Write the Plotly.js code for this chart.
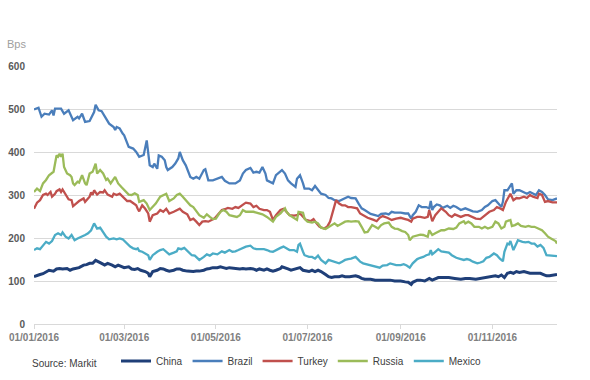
<!DOCTYPE html>
<html><head><meta charset="utf-8">
<script src="https://cdn.plot.ly/plotly-3.0.1.min.js"></script>
<style>html,body{margin:0;padding:0;background:#fff}#chart{width:590px;height:380px}</style>
</head><body><div id="chart"></div>
<script>
// Days since 01/01/2016 and CDS spreads (bps)
const chinaDays=[0,2,4,6,8,10,13,15,17,19,22,24,26,28,30,33,35,37,39,41,43,45,47,49,52,54,56,58,60,63,65,67,69,71,74,76,77,79,82,84,86,88,90,93,95,97,99,102,104,106,108,110,113,115,117,119,122,124,126,128,130,133,135,137,139,141,144,146,148,150,153,155,157,159,161,164,165,167,169,171,174,175,177,179,181,183,185,187,189,191,194,196,198,200,203,205,207,210,214,216,218,220,224,227,230,234,237,240,244,247,249,251,252,255,257,260,263,265,267,269,272,276,280,284,287,290,294,297,300,303,307,309,311,313,315,317,319,321,323,326,328,330,332,335,337,339,341,343,346,348];
const chinaBps=[110,113,115,117,122,125,123,128,129,128,129,125,128,129,131,137,138,141,141,148,145,141,137,141,137,133,137,133,131,133,128,127,129,125,122,118,110,122,125,129,128,125,123,125,128,128,125,123,122,122,123,123,125,128,129,131,131,133,131,129,131,129,129,128,129,128,129,128,125,128,125,128,125,123,125,129,133,131,128,125,128,129,131,125,123,122,125,122,125,122,115,110,108,110,110,112,110,110,112,110,106,104,104,102,102,102,102,100,100,98,97,92,97,102,102,100,106,102,106,108,108,108,106,104,106,106,104,106,108,110,112,110,114,108,118,120,118,122,120,122,120,118,118,118,118,115,112,112,114,115];

const brazilDays=[0,3,5,7,10,12,13,14,18,20,23,25,26,29,30,32,34,37,39,40,41,43,45,47,50,53,54,55,57,59,60,63,66,68,70,73,75,77,79,80,82,83,85,87,88,89,92,94,96,97,98,99,101,102,104,106,108,110,113,114,116,119,122,125,127,130,134,137,139,141,144,146,148,150,152,154,155,157,159,161,165,167,169,171,174,175,177,179,180,183,185,187,189,191,194,196,198,200,203,205,207,209,211,214,216,218,220,224,227,229,231,234,236,238,240,244,247,249,251,252,254,256,258,261,263,264,265,266,268,270,272,275,277,279,281,284,287,290,292,295,298,300,302,305,307,309,311,312,313,315,317,318,319,321,323,326,328,330,332,334,336,338,340,342,345,347,348];
const brazilBps=[499,503,482,489,487,497,485,501,501,489,497,482,474,482,478,489,470,472,484,493,510,497,495,482,466,458,451,458,455,443,439,412,408,400,389,393,427,369,365,373,361,392,389,381,365,358,365,373,385,400,389,381,369,361,342,338,342,338,358,360,334,334,338,342,333,327,327,334,350,358,363,352,354,352,365,350,334,330,327,346,358,350,334,327,319,338,346,327,315,315,311,321,311,303,300,293,292,288,286,290,292,296,293,292,280,269,265,256,253,251,256,257,255,261,259,259,257,257,245,253,261,276,272,272,269,286,265,272,278,276,270,275,270,275,272,265,269,265,262,261,265,272,276,286,288,280,272,284,311,311,323,327,303,311,311,307,303,307,303,300,311,307,300,290,288,290,292];

const turkeyDays=[0,2,4,6,8,9,11,12,14,15,17,18,19,21,23,25,26,28,30,33,34,37,38,39,40,42,44,46,47,49,52,53,55,57,59,62,64,66,68,69,70,72,74,76,77,79,82,84,86,88,90,93,95,97,99,102,104,106,108,110,112,114,116,118,120,123,125,127,129,132,134,136,138,140,141,144,146,148,150,153,155,157,159,161,164,166,168,170,173,175,177,179,181,184,186,188,190,193,195,197,199,201,203,205,207,209,211,215,217,219,222,226,228,230,232,235,238,241,244,247,249,251,252,255,257,260,262,263,265,267,269,271,274,276,278,280,284,287,289,291,294,297,299,301,303,306,308,310,312,314,316,317,319,321,323,326,328,330,332,335,336,338,340,342,345,347,348];
const turkeyBps=[268,282,288,300,303,300,307,296,303,309,313,307,313,300,290,288,274,280,286,292,284,296,306,300,311,301,307,306,311,301,296,303,300,303,296,286,286,280,276,268,262,276,268,257,238,253,257,265,261,268,257,261,265,268,261,255,242,245,238,230,238,239,238,242,245,257,265,267,270,268,272,270,276,280,282,280,272,275,268,265,265,261,242,253,265,268,261,253,252,253,257,249,242,239,244,234,226,222,226,238,261,288,280,276,276,272,272,269,257,253,247,242,239,247,251,247,242,245,247,244,242,238,245,249,249,247,249,265,239,253,262,269,261,253,249,255,249,253,253,249,245,244,249,255,261,265,272,269,265,284,296,303,288,293,292,296,293,300,296,293,303,300,284,286,283,284,283];

const russiaDays=[0,2,4,6,8,10,13,14,15,16,17,18,19,20,22,24,25,26,27,29,30,32,34,35,37,39,41,42,44,46,48,49,51,54,56,58,60,63,65,67,69,70,73,75,77,79,81,84,86,88,90,93,95,97,99,101,104,106,108,110,113,115,117,119,121,124,126,128,130,132,135,137,139,141,144,146,148,150,152,155,157,159,161,164,166,167,168,170,172,175,176,179,180,182,185,187,189,191,194,196,198,200,202,205,207,209,211,214,216,218,220,222,225,227,229,231,233,236,238,240,242,245,247,249,250,252,255,257,259,261,262,263,265,267,269,271,273,276,279,281,283,286,287,289,291,293,296,298,300,302,305,307,309,311,313,314,317,318,320,322,324,327,329,331,333,336,338,340,342,344,347,348];
const russiaBps=[307,315,309,327,335,346,354,373,392,389,396,389,396,365,350,346,342,327,323,331,329,346,327,323,350,354,373,350,358,350,335,338,327,342,327,319,311,301,300,304,300,284,288,280,265,272,280,296,300,303,286,292,300,303,296,288,276,272,261,253,247,255,249,244,245,261,265,261,253,252,249,253,265,261,261,261,259,257,255,249,244,238,249,257,265,269,261,253,249,242,261,259,245,238,236,238,234,224,221,226,230,234,228,234,238,239,238,239,238,226,213,214,230,226,222,230,234,236,226,222,221,216,214,207,195,203,207,208,207,205,203,218,207,211,214,218,218,222,221,224,234,239,234,238,234,226,226,222,226,222,226,238,234,222,226,238,242,228,230,234,228,226,228,226,226,222,218,211,203,199,193,187];

const mexicoDays=[0,2,4,6,8,10,12,14,16,18,19,21,23,25,27,29,32,34,36,38,40,42,44,46,48,50,53,55,57,59,62,64,66,68,69,70,72,74,76,77,79,82,84,86,88,90,93,95,96,98,100,103,105,107,109,110,113,115,117,119,122,124,125,127,130,132,134,136,138,140,141,144,146,148,150,153,155,157,159,161,164,166,168,170,173,175,176,177,179,180,183,185,187,189,191,194,196,198,200,203,205,207,209,211,214,215,217,219,221,225,228,230,232,235,237,239,241,244,246,248,250,252,255,257,259,261,263,264,265,267,269,271,274,276,278,281,284,286,288,290,292,295,297,299,301,303,306,308,310,312,313,315,316,317,319,321,322,325,327,329,331,333,335,337,339,341,343,346,348];
const mexicoBps=[172,176,174,183,191,187,193,207,211,207,213,203,199,207,195,199,203,207,211,218,234,222,224,214,203,197,199,197,199,197,187,180,176,174,176,170,168,164,160,149,160,168,172,174,168,162,166,169,176,174,177,168,160,159,152,149,156,162,159,164,162,168,169,166,172,168,169,172,176,178,180,182,176,174,174,174,172,169,168,172,177,180,176,172,172,168,184,187,168,160,156,156,152,159,149,141,149,147,145,141,145,149,151,152,156,152,145,141,139,136,133,131,136,137,141,139,137,137,139,136,131,141,151,154,156,160,162,172,162,168,174,169,168,166,160,154,151,149,151,149,145,141,143,146,154,156,164,160,152,146,168,187,185,193,172,185,195,191,190,191,187,187,180,184,177,160,159,158,158];

const seriesNames=['China','Brazil','Turkey','Russia','Mexico'];
const seriesColors=['#1f3f78','#4a7ebb','#c0504d','#9bbb59','#4bacc6'];
const seriesWidths=[3,2.3,2.3,2.3,2.3];
const seriesDays=[chinaDays,brazilDays,turkeyDays,russiaDays,mexicoDays];
const seriesBps=[chinaBps,brazilBps,turkeyBps,russiaBps,mexicoBps];

function toDate(d){return new Date(Date.UTC(2016,0,1)+d*86400000).toISOString().slice(0,10);}

const traces=seriesNames.map((n,i)=>({
  type:'scatter',mode:'lines',name:n,
  x:seriesDays[i].map(toDate),y:seriesBps[i],
  line:{color:seriesColors[i],width:seriesWidths[i]}
}));

const pw=523, ph=258, pl=34, pt=66;
const layout={
  width:590,height:380,
  margin:{l:pl,r:590-pl-pw,t:pt,b:380-pt-ph,pad:0},
  paper_bgcolor:'#ffffff',plot_bgcolor:'#ffffff',
  font:{family:'"Liberation Sans", Arial, sans-serif',size:10,color:'#404040'},
  xaxis:{type:'date',range:['2016-01-01','2016-12-14'],tickformat:'%d/%m/%Y',dtick:'M2',tick0:'2016-01-01',
    ticks:'outside',ticklen:4,tickcolor:'#d9d9d9',showline:true,linecolor:'#d9d9d9',linewidth:1,
    showgrid:false,zeroline:false,tickfont:{size:10,color:'#808080',weight:'bold'}},
  yaxis:{range:[0,600],dtick:100,showgrid:true,gridcolor:'#d9d9d9',gridwidth:1,zeroline:false,showline:false,
    ticks:'',ticklabelstandoff:8,tickfont:{size:10,color:'#595959',weight:'bold'}},
  showlegend:true,
  legend:{orientation:'h',xref:'container',yref:'container',x:116/590,y:1-361/380,xanchor:'left',yanchor:'middle',
    font:{size:10,color:'#404040'},traceorder:'normal',bgcolor:'rgba(0,0,0,0)'},
  annotations:[
    {text:'Bps',xref:'paper',yref:'paper',x:(5-pl)/pw,y:(pt+ph-44)/ph,xanchor:'left',yanchor:'middle',showarrow:false,
     font:{size:11,color:'#a0a0a0'}},
    {text:'Source: Markit',xref:'paper',yref:'paper',x:(30-pl)/pw,y:(pt+ph-363)/ph,xanchor:'left',yanchor:'middle',showarrow:false,
     font:{size:10,color:'#404040'}}
  ]
};
Plotly.newPlot('chart',traces,layout,{staticPlot:true,displayModeBar:false});
</script>
</body></html>
